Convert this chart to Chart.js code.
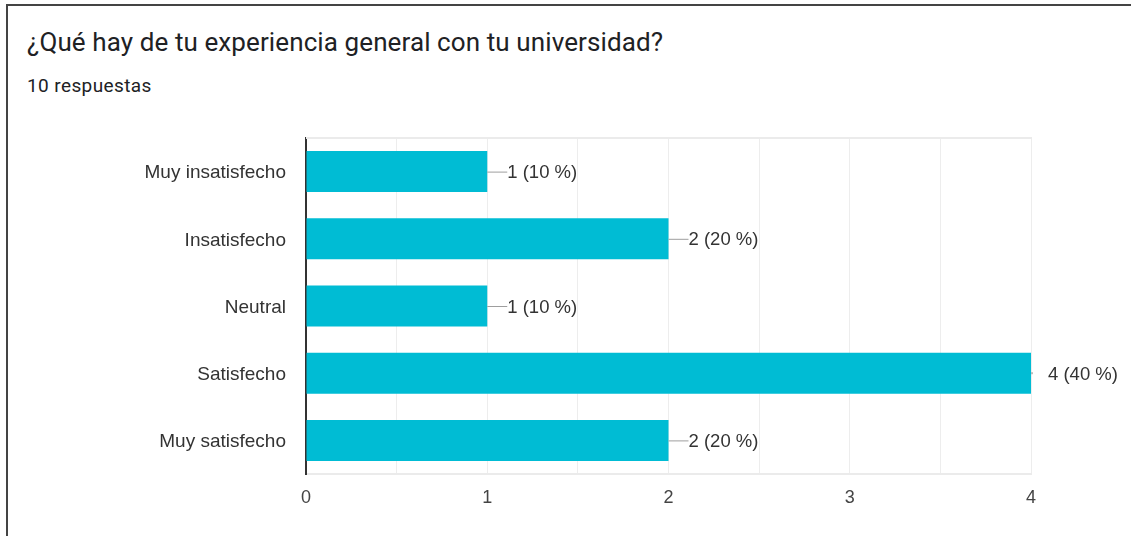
<!DOCTYPE html>
<html>
<head>
<meta charset="utf-8">
<script src="https://cdn.jsdelivr.net/npm/chart.js@4.4.0/dist/chart.umd.min.js"></script>
<style>
  html, body { margin:0; padding:0; background:#fff; }
  #wrap { position:relative; width:1131px; height:536px; overflow:hidden; }
  #frame { position:absolute; left:6px; top:4px; width:1200px; height:600px; border-left:2px solid #444; border-top:2px solid #444; box-sizing:border-box; }
  #title { position:absolute; left:27px; top:25px; font-family:Roboto, sans-serif; font-size:26px; line-height:34px; color:#202124; white-space:nowrap; letter-spacing:0.1px; }
  #sub { position:absolute; left:27px; top:74px; font-family:Roboto, sans-serif; font-size:19px; line-height:24px; color:#202124; white-space:nowrap; letter-spacing:0.4px; }
  canvas { position:absolute; left:0; top:0; }
</style>
</head>
<body>
<div id="wrap">
  <div id="frame"></div>
  <div id="title">¿Qué hay de tu experiencia general con tu universidad?</div>
  <div id="sub">10 respuestas</div>
  <canvas id="c" width="1131" height="536"></canvas>
</div>
<script>
const categories = ["Muy insatisfecho", "Insatisfecho", "Neutral", "Satisfecho", "Muy satisfecho"];
const counts = [1, 2, 1, 4, 2];
const xTicks = [0, 1, 2, 3, 4];

const total = counts.reduce((a, b) => a + b, 0);
const FONT = "'Liberation Sans', Arial, sans-serif";

const frameAndLabels = {
  id: 'frameAndLabels',
  beforeDatasetsDraw(chart) {
    const { ctx, chartArea: a } = chart;
    ctx.save();
    ctx.strokeStyle = '#ebebeb';
    ctx.lineWidth = 2;
    ctx.beginPath();
    ctx.moveTo(a.left, a.top);
    ctx.lineTo(a.right + 1, a.top);
    ctx.stroke();
    ctx.restore();
  },
  afterDatasetsDraw(chart) {
    const { ctx } = chart;
    const xs = chart.scales.x;
    const meta = chart.getDatasetMeta(0);
    ctx.save();
    ctx.font = '18.5px ' + FONT;
    ctx.textBaseline = 'middle';
    ctx.textAlign = 'left';
    meta.data.forEach((bar, i) => {
      const v = counts[i];
      const x = xs.getPixelForValue(v);
      const y = bar.y;
      const label = v + ' (' + Math.round(v / total * 100) + ' %)';
      let tx;
      if (v >= xs.max) {
        ctx.fillStyle = '#bbb';
        ctx.fillRect(x, y - 1, 2, 2);
        tx = x + 17;
      } else {
        ctx.strokeStyle = '#9e9e9e';
        ctx.lineWidth = 1;
        ctx.beginPath();
        ctx.moveTo(x, y + 0.5);
        ctx.lineTo(x + 20, y + 0.5);
        ctx.stroke();
        tx = x + 20;
      }
      ctx.fillStyle = '#333';
      ctx.fillText(label, tx, y + 1.5);
    });
    ctx.restore();
  }
};

new Chart(document.getElementById('c'), {
  type: 'bar',
  data: {
    labels: categories,
    datasets: [{
      data: counts,
      backgroundColor: '#00bcd4',
      borderWidth: 0,
      barPercentage: 0.61,
      categoryPercentage: 1.0
    }]
  },
  options: {
    indexAxis: 'y',
    responsive: false,
    animation: false,
    events: [],
    layout: { padding: { top: 138, right: 100, left: 0, bottom: 0 } },
    plugins: { legend: { display: false }, tooltip: { enabled: false }, title: { display: false } },
    scales: {
      x: {
        min: 0, max: 4,
        afterFit(s) { s.height = 62; },
        ticks: {
          stepSize: 0.5,
          autoSkip: false,
          maxRotation: 0,
          padding: 13,
          color: '#444',
          font: { family: FONT, size: 18 },
          callback: (v) => xTicks.includes(v) ? String(v) : ''
        },
        grid: { color: '#ededed', lineWidth: 1, drawTicks: false },
        border: { display: true, color: '#ebebeb', width: 2 }
      },
      y: {
        afterFit(s) { s.width = 306; },
        ticks: {
          padding: 20,
          labelOffset: 1.5,
          color: '#333',
          font: { family: FONT, size: 19 }
        },
        grid: { display: false, drawTicks: false },
        border: { display: true, color: '#333', width: 2 }
      }
    }
  },
  plugins: [frameAndLabels]
});
</script>
</body>
</html>
